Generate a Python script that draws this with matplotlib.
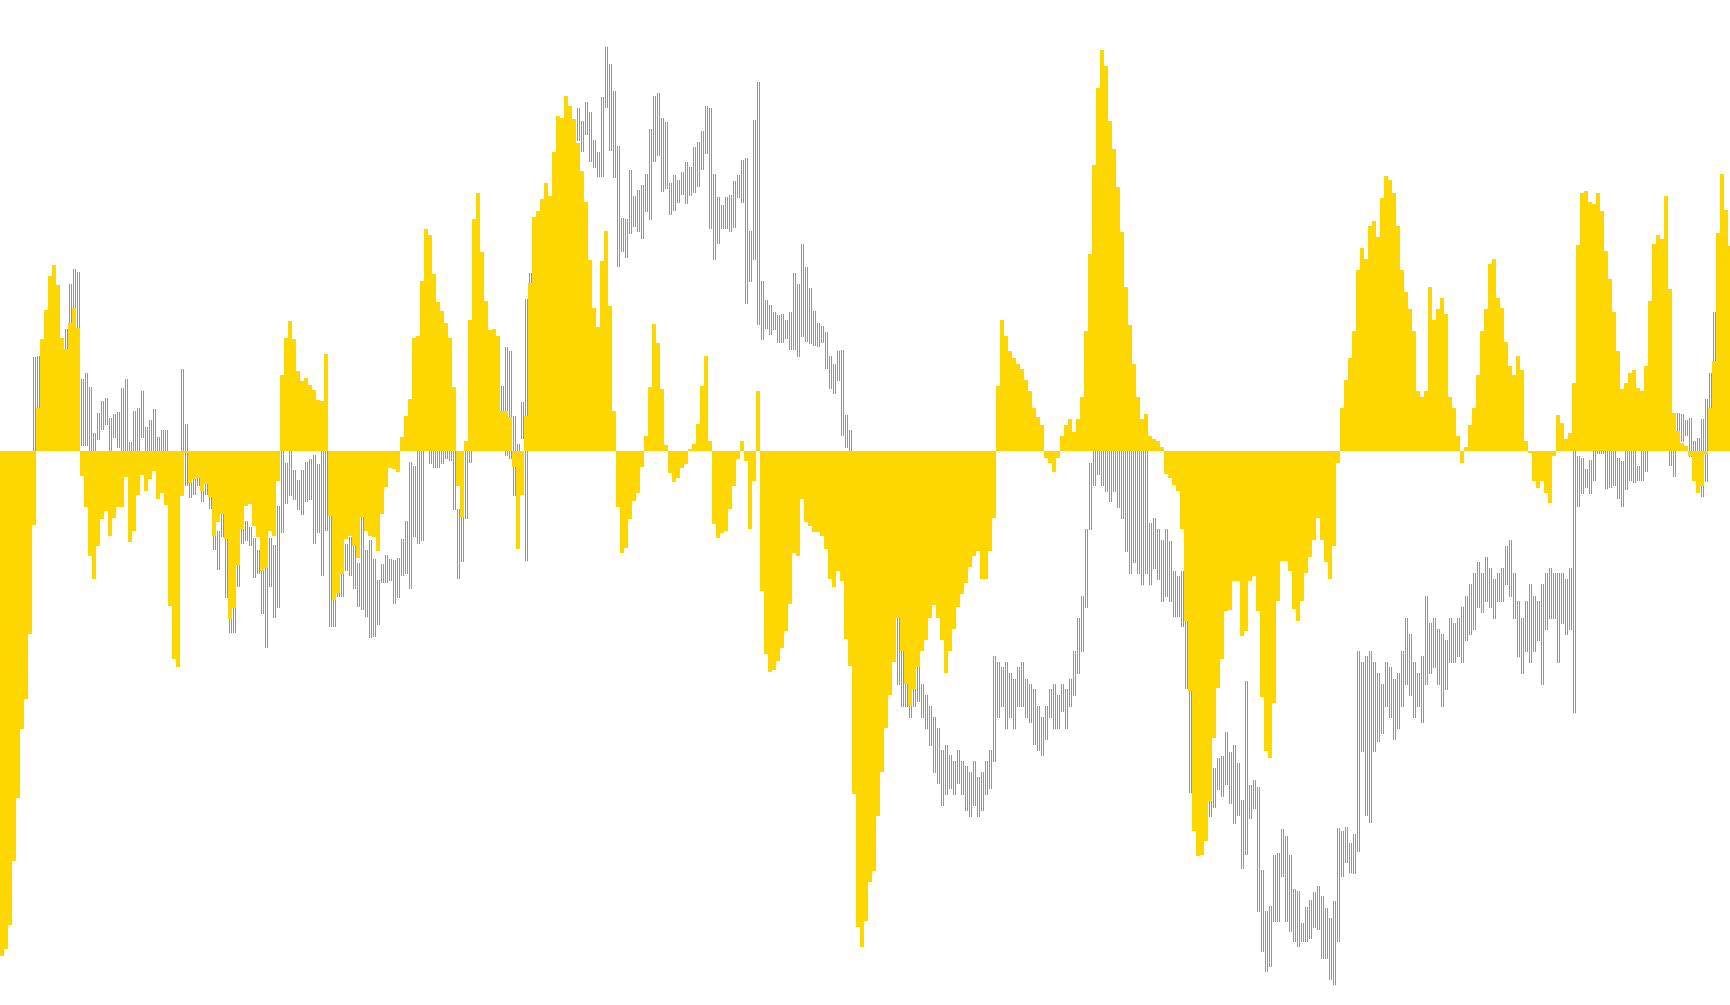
import numpy as np
import matplotlib
matplotlib.use("Agg")
import matplotlib.pyplot as plt

# oscillator histogram (yellow), one value per bar
osc = [
    -505, -498, -474, -410, -347, -278, -248, -183, -74, 43, 112, 141, 175, 186, 166, 113,
    102, 128, 143, 123, -25, -56, -105, -128, -95, -68, -60, -85, -67, -56, -56, -26,
    -91, -80, -44, -24, -40, -28, -20, -48, -42, -54, -155, -208, -216, -45, -2, -32,
    -28, -27, -40, -33, -46, -85, -71, -63, -88, -168, -157, -114, -78, -55, -53, -75,
    -86, -120, -117, -80, -85, -30, 76, 113, 130, 112, 80, 70, 73, 66, 61, 51,
    50, 97, -65, -149, -142, -123, -88, -85, -95, -107, -66, -80, -85, -86, -100, -63,
    -36, -17, -18, -21, 14, 35, 52, 113, 115, 170, 222, 216, 177, 149, 140, 128,
    113, 64, -35, -66, 10, 131, 232, 258, 199, 150, 121, 122, 115, 40, 40, 34,
    -16, -98, -44, 35, 168, 234, 240, 252, 268, 255, 299, 335, 333, 355, 345, 332,
    308, 280, 249, 191, 143, 124, 190, 220, 145, 40, -56, -102, -97, -68, -50, -42,
    -16, 15, 64, 127, 108, 62, 6, -22, -31, -27, -17, -13, 2, 7, 27, 65,
    95, 10, -73, -87, -82, -80, -58, -35, -8, 10, -10, -78, -30, 60, -140, -203,
    -221, -219, -210, -197, -180, -153, -102, -105, -48, -71, -75, -81, -81, -85, -98, -128,
    -136, -120, -130, -188, -215, -343, -476, -496, -470, -431, -420, -365, -321, -277, -244, -211,
    -167, -200, -233, -255, -238, -216, -200, -189, -167, -154, -167, -189, -222, -200, -178, -156,
    -143, -132, -116, -105, -100, -128, -128, -100, -67, 65, 131, 115, 100, 93, 87, 82,
    71, 60, 43, 34, 26, -7, -12, -21, -7, 15, 26, 32, 19, 32, 54, 120,
    197, 286, 363, 401, 385, 330, 302, 264, 219, 164, 126, 87, 54, 32, 37, 15,
    12, 10, 4, -23, -27, -34, -40, -78, -170, -240, -380, -405, -404, -390, -350, -287,
    -237, -208, -160, -159, -130, -130, -185, -180, -130, -125, -160, -246, -300, -307, -252, -150,
    -110, -110, -120, -158, -170, -150, -122, -106, -89, -67, -89, -111, -128, -95, -12, 43,
    71, 93, 120, 181, 203, 192, 225, 230, 214, 253, 275, 271, 258, 225, 181, 159,
    142, 120, 60, 54, 60, 164, 131, 142, 153, 137, 54, 43, 15, -12, 4, 26,
    43, 76, 120, 142, 187, 192, 153, 143, 109, 85, 76, 95, 81, 10, -2, -30,
    -37, -30, -42, -52, -5, 36, 28, 12, 18, 68, 206, 258, 260, 249, 247, 258,
    240, 200, 172, 139, 100, 62, 68, 78, 81, 63, 60, 85, 150, 207, 216, 212,
    255, 162, 38, 20, 8, 5, -5, -30, -42, -35, -3, 43, 90, 218, 277, 241,
    205,
]

# price bars (green), high and low per bar
hi = [
    -30, -30, -30, -25, -20, -20, -15, -10, 94, 95, 100, 130, 160, 170, 150, 105,
    122, 167, 182, 179, 72, 78, 64, 18, 38, 50, 53, 33, 37, 39, 63, 72,
    9, 40, 43, 60, 24, 31, 42, 14, 21, 21, -20, -30, -10, 82, 27, -22,
    -21, -22, -32, -32, -38, -60, -80, -48, -67, -120, -130, -90, -75, -70, -76, -87,
    -99, -108, -101, -87, -94, -55, 10, -12, 5, -19, -29, -19, -11, -8, -4, -13,
    10, 10, -43, -139, -125, -119, -93, -86, -94, -112, -63, -99, -89, -108, -129, -113,
    -104, -108, -109, -107, -88, -70, -11, -15, 20, 30, 170, 150, 155, 140, 130, 120,
    100, 50, -58, -60, 5, 90, 200, 220, 190, 140, 115, 115, 110, 65, 104, 100,
    35, 7, 49, 152, 178, 200, 210, 220, 230, 240, 270, 300, 310, 330, 330, 320,
    343, 330, 349, 339, 311, 299, 354, 404, 387, 360, 305, 233, 232, 281, 255, 261,
    266, 277, 322, 355, 358, 333, 329, 268, 276, 271, 279, 289, 284, 304, 309, 320,
    345, 343, 277, 254, 246, 254, 256, 270, 276, 291, 293, 220, 331, 369, 170, 151,
    146, 139, 136, 137, 131, 139, 178, 167, 207, 184, 163, 140, 128, 125, 119, 95,
    87, 100, 101, 36, 21, -10, -30, -60, -80, -100, -110, -120, -130, -130, -140, -140,
    -150, -167, -211, -222, -228, -211, -233, -244, -255, -266, -277, -299, -294, -304, -310, -299,
    -310, -315, -321, -310, -326, -321, -310, -299, -205, -211, -216, -211, -222, -228, -216, -211,
    -228, -233, -238, -255, -266, -255, -238, -233, -244, -233, -238, -228, -200, -167, -145, -78,
    -12, 100, 200, 250, 250, 200, 200, 180, 150, 100, 80, 50, 20, 10, 0, -72,
    -67, -78, -89, -78, -90, -120, -125, -120, -140, -222, -300, -330, -320, -330, -320, -317,
    -307, -305, -281, -301, -294, -312, -349, -230, -334, -329, -336, -419, -460, -455, -404, -402,
    -378, -385, -404, -438, -440, -472, -456, -449, -441, -435, -445, -457, -467, -450, -377, -380,
    -376, -392, -383, -200, -211, -205, -200, -211, -222, -233, -211, -216, -228, -222, -200, -167,
    -183, -211, -222, -205, -145, -172, -167, -178, -183, -189, -167, -172, -167, -156, -145, -133,
    -122, -111, -122, -106, -117, -128, -122, -117, -95, -89, -122, -150, -167, -150, -133, -145,
    -150, -133, -122, -117, -122, -122, -122, -128, -117, 10, -5, -7, -18, -9, 20, 20,
    20, 0, 10, 0, -7, -10, 5, 5, 5, -15, 5, 10, 120, 150, 170, 170,
    180, 100, 30, 38, 37, 31, 33, 10, 13, 32, 52, 78, 139, 200, 230, 220,
    200,
]
lo = [
    -80, -80, -80, -75, -70, -70, -60, -50, -20, 38, 60, 90, 120, 130, 115, 80,
    103, 125, 125, 83, 6, 6, -5, -5, 12, 22, 27, -5, 14, 4, -5, -5,
    -5, -5, -5, 14, -20, -10, -10, -20, -10, -20, -80, -100, -90, -20, -34, -46,
    -43, -34, -50, -43, -57, -98, -118, -85, -146, -181, -181, -135, -92, -89, -94, -126,
    -122, -162, -196, -135, -166, -156, -81, -52, -44, -48, -58, -63, -50, -48, -92, -81,
    -124, -79, -175, -175, -145, -145, -119, -124, -137, -155, -158, -165, -186, -185, -173, -131,
    -131, -129, -152, -146, -124, -122, -137, -85, -92, -89, 60, -12, -16, -16, -12, -7,
    -9, -58, -127, -110, -67, -11, 60, 120, 110, 90, 70, 70, 60, 15, -4, -7,
    -44, -90, 13, -109, 100, 100, 120, 130, 150, 160, 180, 200, 220, 240, 250, 240,
    311, 300, 317, 290, 284, 275, 275, 344, 301, 274, 185, 200, 194, 218, 225, 220,
    213, 240, 232, 290, 296, 260, 263, 237, 241, 249, 257, 248, 256, 259, 265, 282,
    298, 223, 192, 208, 223, 223, 220, 224, 254, 249, 148, 170, 192, 127, 112, 123,
    117, 122, 109, 109, 113, 102, 102, 95, 115, 110, 108, 106, 105, 109, 83, 63,
    58, 71, 16, 4, -10, -60, -90, -120, -150, -160, -170, -180, -190, -190, -200, -200,
    -233, -255, -255, -266, -255, -250, -266, -277, -294, -321, -332, -354, -343, -337, -343, -332,
    -343, -359, -365, -354, -365, -359, -343, -337, -310, -266, -255, -277, -266, -277, -255, -255,
    -266, -271, -293, -299, -304, -288, -266, -277, -277, -260, -277, -255, -244, -222, -200, -156,
    -78, -34, -23, -34, -40, -50, -40, -56, -67, -100, -122, -111, -122, -133, -122, -133,
    -117, -128, -150, -145, -150, -165, -165, -175, -237, -341, -356, -390, -390, -380, -365, -356,
    -338, -345, -333, -352, -372, -364, -417, -403, -367, -357, -460, -500, -520, -515, -470, -470,
    -425, -470, -480, -490, -495, -490, -490, -487, -476, -478, -507, -507, -528, -533, -490, -425,
    -411, -421, -422, -400, -300, -364, -371, -300, -290, -282, -255, -266, -288, -277, -255, -233,
    -244, -266, -255, -271, -233, -222, -216, -233, -255, -238, -211, -211, -205, -211, -189, -183,
    -178, -156, -161, -150, -156, -167, -150, -150, -133, -145, -167, -205, -222, -200, -211, -200,
    -189, -233, -178, -167, -167, -211, -172, -183, -178, -261, -55, -42, -36, -42, -29, -2,
    -2, -37, -36, -34, -47, -55, -38, -29, -31, -29, -29, -20, 40, 60, 80, 80,
    90, -14, -25, 7, 10, 16, -5, -20, -30, -45, -30, 31, 55, 120, 150, 140,
    130,
]

gold = '#FFD700'
lime = '#22E622'

x = np.arange(len(osc))

fig = plt.figure(figsize=(17.3, 10.05), dpi=100)
ax = fig.add_axes([0, 0, 1, 1])

# price bars drawn as thin 1px strokes, two per slot, under the histogram
for off in (0.25, 0.75):
    ax.vlines(x + off, lo, hi, color=lime, linewidth=0.72, antialiased=False, zorder=1)
ax.bar(x, osc, width=1.0, align='edge', color=gold, linewidth=0, antialiased=False, zorder=2)

ax.set_xlim(0, 432.5)
ax.set_ylim(-554, 451)
ax.axis('off')

fig.savefig('out.png', dpi=100, facecolor='white')
